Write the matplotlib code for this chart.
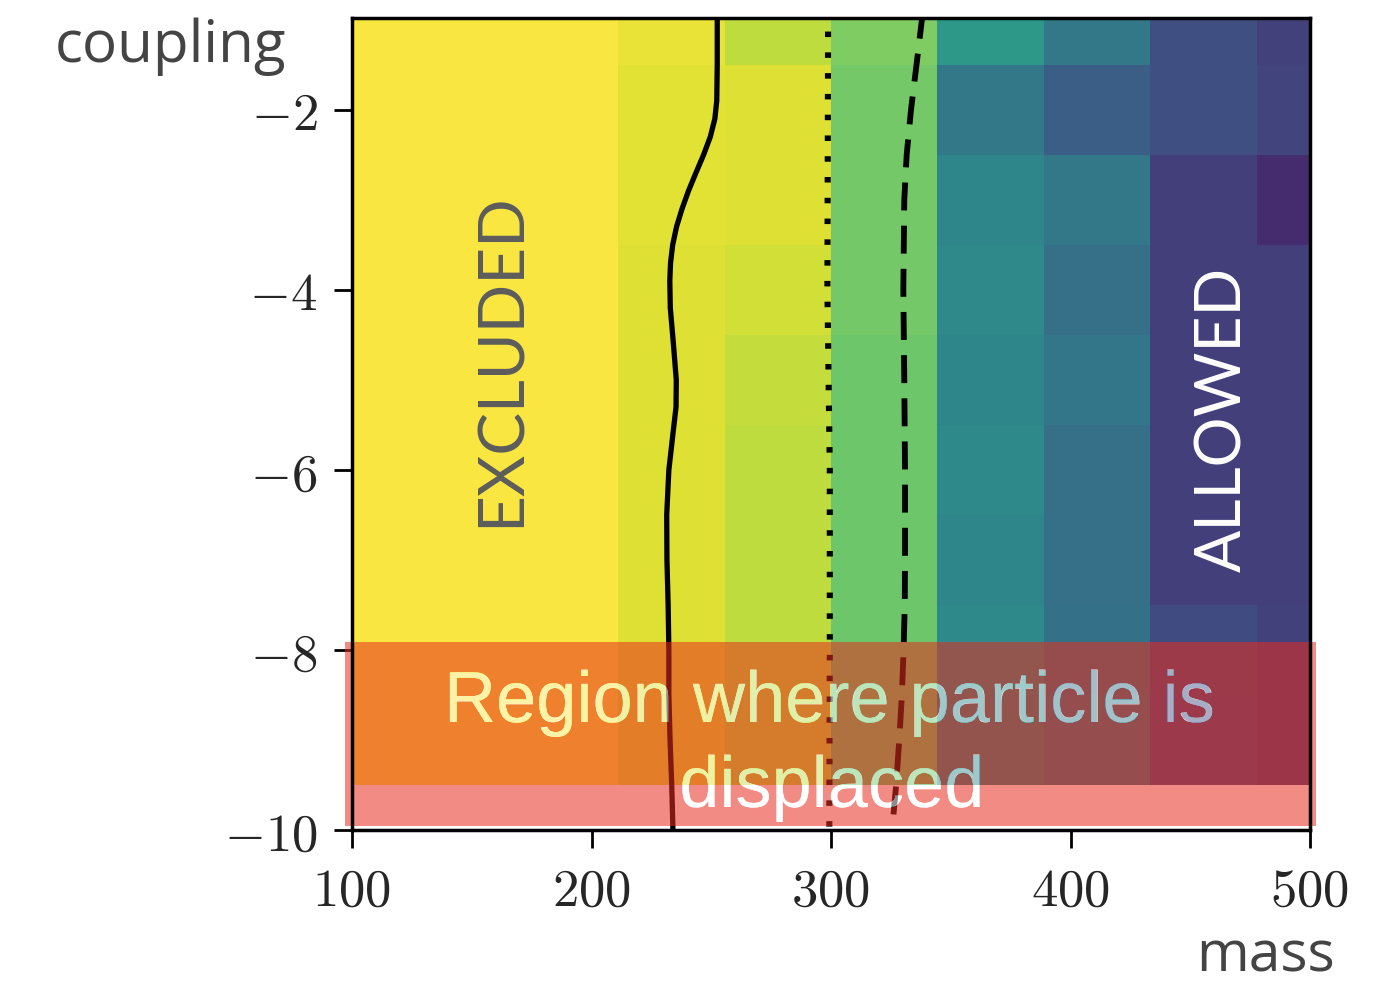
import matplotlib

matplotlib.use("Agg")

import matplotlib.pyplot as plt
import matplotlib.transforms as mtransforms
import numpy as np
from matplotlib.colors import ListedColormap
from matplotlib.font_manager import FontProperties
from matplotlib.patches import PathPatch, Rectangle
from matplotlib.path import Path
from matplotlib.textpath import TextPath

# heatmap grid (bin centres)
MASS = [100.0, 144.4, 188.9, 233.3, 277.8, 322.2, 366.7, 411.1, 455.6, 500.0]
COUPLING = [-1, -2, -3, -4, -5, -6, -7, -8, -9]

# normalised value per cell (rows = COUPLING, cols = MASS)
VALUES = [
    [1.00, 1.00, 1.00, 0.97, 0.90, 0.79, 0.55, 0.41, 0.24, 0.19],
    [1.00, 1.00, 1.00, 0.96, 0.95, 0.77, 0.41, 0.30, 0.24, 0.20],
    [1.00, 1.00, 1.00, 0.96, 0.95, 0.77, 0.47, 0.41, 0.18, 0.12],
    [1.00, 1.00, 1.00, 0.95, 0.93, 0.77, 0.48, 0.37, 0.18, 0.18],
    [1.00, 1.00, 1.00, 0.95, 0.91, 0.76, 0.47, 0.40, 0.18, 0.18],
    [1.00, 1.00, 1.00, 0.95, 0.90, 0.76, 0.49, 0.37, 0.18, 0.18],
    [1.00, 1.00, 1.00, 0.95, 0.90, 0.76, 0.47, 0.37, 0.18, 0.18],
    [1.00, 1.00, 1.00, 0.95, 0.90, 0.76, 0.49, 0.38, 0.23, 0.19],
    [1.00, 1.00, 1.00, 0.95, 0.90, 0.76, 0.47, 0.40, 0.22, 0.19],
]

# limit curves (coupling, mass)
SOLID_Y = [-0.9, -1.5, -1.9, -2.1, -2.3, -2.5, -2.7, -2.9, -3.1, -3.3, -3.5, -3.7, -3.9,
           -4.2, -4.6, -5.0, -5.3, -5.6, -6.0, -6.5, -7.0, -7.5, -8.0, -8.5, -9.0, -9.5, -10.0]
SOLID_X = [252.5, 252.5, 252.3, 251.5, 249.6, 246.8, 243.6, 240.5, 237.8, 235.5, 233.9, 233.0, 232.7,
           232.9, 234.2, 235.4, 235.3, 234.0, 232.3, 231.4, 231.5, 232.0, 232.3, 232.3, 232.8, 233.5, 234.0]

DOT_Y = [-0.9, -4.0, -6.0, -8.0, -10.0]
DOT_X = [298.8, 298.5, 299.5, 299.5, 299.3]

DASH_Y = [-0.9, -1.5, -2.0, -2.5, -3.0, -4.0, -5.0, -6.0, -7.0, -7.5, -8.0, -8.5, -9.0, -9.5, -10.0]
DASH_X = [338.4, 335.7, 333.4, 331.6, 330.6, 330.2, 330.6, 330.9, 330.9, 330.8, 330.3, 329.6, 328.5, 327.2, 325.5]

XTICKS = [100, 200, 300, 400, 500]
YTICKS = [-2, -4, -6, -8, -10]

REGION_LINES = ["Region where particle is", "displaced"]
REGION_MASS = (97.1, 502.5)
REGION_COUPLING = (-9.96, -7.91)

plt.rcParams["mathtext.fontset"] = "cm"

# viridis, slightly washed out like the scanned figure
vir = plt.get_cmap("viridis")(np.linspace(0, 1, 256))[:, :3]
lum = vir @ np.array([0.2126, 0.7152, 0.0722])
soft = 0.85 * vir + 0.15 * lum[:, None]
cmap = ListedColormap(soft)

W, H = 13.95, 9.85
fig = plt.figure(figsize=(W, H), dpi=100)
ax = fig.add_axes([352 / 1395, 155 / 985, 958 / 1395, 812 / 985])


def draw_base(ax, zorder, clip=None):
    mesh = ax.pcolormesh(MASS, COUPLING, VALUES, shading="nearest", cmap=cmap,
                         vmin=0, vmax=1, antialiased=False, linewidth=0, zorder=zorder)
    l1, = ax.plot(SOLID_X, SOLID_Y, color="black", lw=3.8, zorder=zorder + 0.1)
    l2, = ax.plot(DOT_X, DOT_Y, color="black", lw=4.4, zorder=zorder + 0.1)
    l2.set_dashes((0.9, 2.5))
    l3, = ax.plot(DASH_X, DASH_Y, color="black", lw=4.2, zorder=zorder + 0.1)
    l3.set_dashes((4.8, 2.6))
    if clip is not None:
        for art in (mesh, l1, l2, l3):
            art.set_clip_path(clip)


draw_base(ax, 1)

ax.add_patch(Rectangle((REGION_MASS[0], REGION_COUPLING[0]), REGION_MASS[1] - REGION_MASS[0],
                       REGION_COUPLING[1] - REGION_COUPLING[0], facecolor="#e82c1e",
                       alpha=0.55, edgecolor="none", zorder=3, clip_on=False))

# text knocked out of the red band: heatmap shows through, lightened
fp = FontProperties(family="Liberation Sans", size=52)
paths = []
for line, base_px in zip(REGION_LINES, [722, 807]):
    tp = TextPath((0, 0), line, prop=fp)
    bb = tp.get_extents()
    tr = (mtransforms.Affine2D().translate(-(bb.x0 + bb.x1) / 2, 0).scale(1 / 72)
          .translate(831 / 1395 * W, (985 - base_px) / 985 * H))
    paths.append(tr.transform_path(tp))
text_path = Path.make_compound_path(*paths)

ax.add_patch(PathPatch(text_path, transform=fig.dpi_scale_trans, facecolor="white",
                       edgecolor="none", zorder=4))
clip_patch = PathPatch(text_path, transform=fig.dpi_scale_trans)
draw_base(ax, 5, clip=clip_patch)
ax.add_patch(PathPatch(text_path, transform=fig.dpi_scale_trans, facecolor="white",
                       edgecolor="none", alpha=0.55, zorder=6))

ax.text(0.156, 0.579, "EXCLUDED", transform=ax.transAxes, rotation=90, ha="center",
        va="center", family="Lato", fontsize=46, color="#5c5c5c", zorder=7)
ax.text(0.910, 0.506, "ALLOWED", transform=ax.transAxes, rotation=90, ha="center",
        va="center", family="Lato", fontsize=45, color="white", zorder=7)

ax.set_xlim(100, 500)
ax.set_ylim(-10, -0.98)
ax.set_xticks(XTICKS, labels=[f"${t}$" for t in XTICKS])
ax.set_yticks(YTICKS, labels=[f"${t}$" for t in YTICKS])
ax.tick_params(direction="out", length=13, width=2, labelsize=38, labelcolor="#262626")
ax.tick_params(axis="x", pad=12)
ax.tick_params(axis="y", pad=12)
for sp in ax.spines.values():
    sp.set_linewidth(2.5)
    sp.set_zorder(8)

fig.text(55 / 1395, 1 - 62 / 985, "coupling", family="Open Sans", fontsize=42,
         color="#444444", ha="left", va="baseline")
fig.text(1335 / 1395, 1 - 971 / 985, "mass", family="Open Sans", fontsize=41,
         color="#444444", ha="right", va="baseline")

fig.savefig("out.png", dpi=100, facecolor="white")
plt.close(fig)
